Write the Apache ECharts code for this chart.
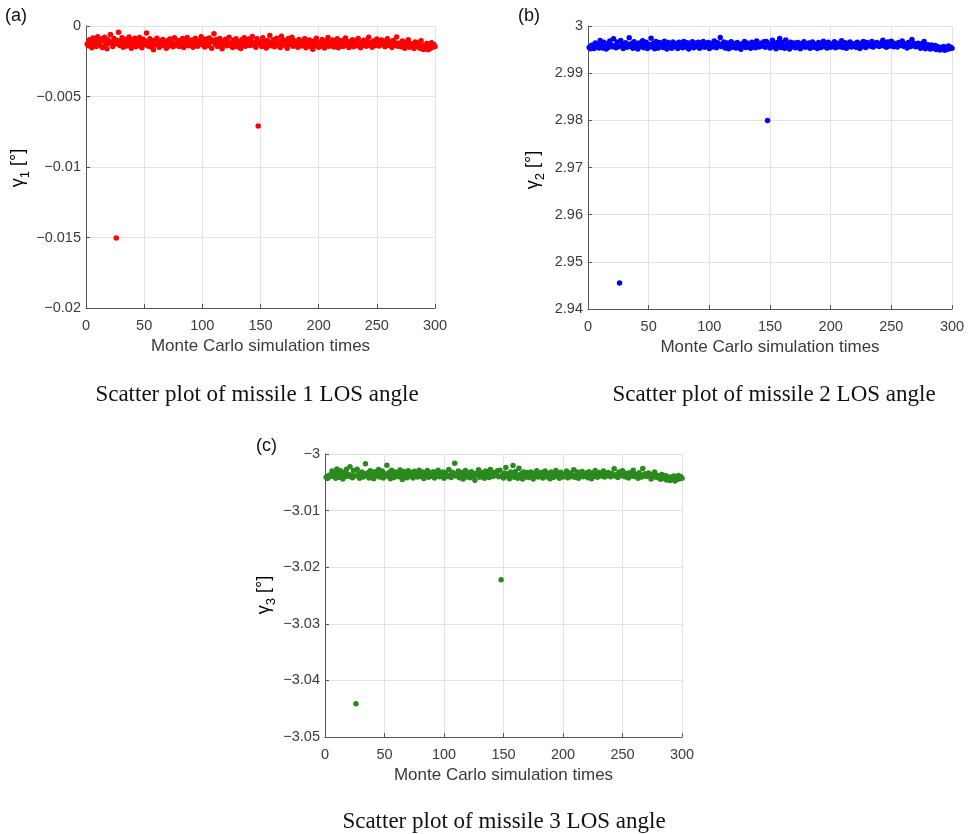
<!DOCTYPE html>
<html>
<head>
<meta charset="utf-8">
<title>LOS angle scatter</title>
<script src="https://cdn.jsdelivr.net/npm/echarts@6/dist/echarts.min.js"></script>
<style>
  html, body { margin: 0; padding: 0; background: #fff; }
  #main { width: 968px; height: 834px; }
</style>
</head>
<body>
<div id="main"></div>
<script>
// Monte Carlo run index 1..300 (x axis)
const xTicks = [0, 50, 100, 150, 200, 250, 300];

// missile 1 LOS angle gamma_1 [deg]
const gamma1 = [
  -0.00128,-0.00140,-0.00098,-0.00119,-0.00155,-0.00085,-0.00124,-0.00106,-0.00146,-0.00076,
  -0.00112,-0.00136,-0.00092,-0.00152,-0.00104,-0.00080,-0.00131,-0.00162,-0.00097,-0.00122,
  -0.00060,-0.00115,-0.00145,-0.00088,-0.00127,-0.01503,-0.00103,-0.00045,-0.00138,-0.00110,
  -0.00084,-0.00150,-0.00121,-0.00095,-0.00141,-0.00108,-0.00078,-0.00133,-0.00158,-0.00100,
  -0.00125,-0.00087,-0.00147,-0.00113,-0.00137,-0.00082,-0.00118,-0.00154,-0.00094,-0.00129,
  -0.00106,-0.00050,-0.00142,-0.00116,-0.00090,-0.00149,-0.00123,-0.00168,-0.00101,-0.00134,
  -0.00086,-0.00124,-0.00151,-0.00111,-0.00139,-0.00096,-0.00130,-0.00117,-0.00157,-0.00105,
  -0.00143,-0.00093,-0.00126,-0.00114,-0.00148,-0.00083,-0.00135,-0.00120,-0.00102,-0.00145,
  -0.00115,-0.00132,-0.00089,-0.00153,-0.00107,-0.00124,-0.00081,-0.00140,-0.00112,-0.00136,
  -0.00099,-0.00150,-0.00122,-0.00087,-0.00128,-0.00144,-0.00104,-0.00119,-0.00077,-0.00133,
  -0.00110,-0.00149,-0.00092,-0.00123,-0.00139,-0.00085,-0.00115,-0.00158,-0.00101,-0.00055,
  -0.00127,-0.00096,-0.00146,-0.00118,-0.00088,-0.00134,-0.00162,-0.00107,-0.00131,-0.00094,
  -0.00140,-0.00114,-0.00079,-0.00136,-0.00121,-0.00153,-0.00100,-0.00127,-0.00090,-0.00147,
  -0.00111,-0.00133,-0.00160,-0.00098,-0.00124,-0.00084,-0.00143,-0.00116,-0.00129,-0.00093,
  -0.00138,-0.00108,-0.00074,-0.00134,-0.00118,-0.00150,-0.00091,-0.00710,-0.00125,-0.00110,
  -0.00145,-0.00083,-0.00135,-0.00114,-0.00156,-0.00102,-0.00128,-0.00068,-0.00140,-0.00119,
  -0.00097,-0.00147,-0.00122,-0.00086,-0.00131,-0.00108,-0.00153,-0.00072,-0.00126,-0.00101,
  -0.00137,-0.00112,-0.00158,-0.00089,-0.00129,-0.00116,-0.00080,-0.00144,-0.00104,-0.00133,
  -0.00120,-0.00151,-0.00095,-0.00127,-0.00141,-0.00110,-0.00135,-0.00090,-0.00155,-0.00114,
  -0.00131,-0.00100,-0.00146,-0.00121,-0.00165,-0.00106,-0.00137,-0.00087,-0.00125,-0.00150,
  -0.00115,-0.00141,-0.00096,-0.00129,-0.00156,-0.00108,-0.00123,-0.00082,-0.00144,-0.00117,
  -0.00134,-0.00099,-0.00149,-0.00120,-0.00136,-0.00091,-0.00154,-0.00112,-0.00128,-0.00103,
  -0.00145,-0.00123,-0.00085,-0.00138,-0.00110,-0.00152,-0.00117,-0.00131,-0.00097,-0.00147,
  -0.00122,-0.00105,-0.00140,-0.00088,-0.00129,-0.00155,-0.00114,-0.00136,-0.00101,-0.00125,
  -0.00143,-0.00112,-0.00080,-0.00134,-0.00120,-0.00150,-0.00106,-0.00127,-0.00139,-0.00093,
  -0.00116,-0.00142,-0.00124,-0.00099,-0.00132,-0.00109,-0.00147,-0.00121,-0.00090,-0.00137,
  -0.00111,-0.00128,-0.00153,-0.00103,-0.00138,-0.00118,-0.00078,-0.00144,-0.00122,-0.00133,
  -0.00148,-0.00107,-0.00129,-0.00158,-0.00116,-0.00140,-0.00097,-0.00151,-0.00125,-0.00142,
  -0.00130,-0.00160,-0.00114,-0.00146,-0.00135,-0.00121,-0.00157,-0.00105,-0.00149,-0.00166,
  -0.00134,-0.00153,-0.00124,-0.00168,-0.00139,-0.00159,-0.00118,-0.00150,-0.00131,-0.00145
];

// missile 2 LOS angle gamma_2 [deg]
const gamma2 = [
  2.99545,2.99520,2.99590,2.99560,2.99525,2.99638,2.99568,2.99600,2.99532,2.99690,
  2.99610,2.99535,2.99655,2.99572,2.99515,2.99630,2.99550,2.99680,2.99605,2.99562,
  2.99730,2.99580,2.99538,2.99660,2.99558,2.94552,2.99690,2.99615,2.99522,2.99595,
  2.99645,2.99548,2.99610,2.99750,2.99565,2.99628,2.99530,2.99665,2.99575,2.99602,
  2.99512,2.99640,2.99560,2.99618,2.99688,2.99540,2.99592,2.99658,2.99525,2.99612,
  2.99580,2.99740,2.99550,2.99635,2.99518,2.99670,2.99598,2.99532,2.99648,2.99570,
  2.99620,2.99545,2.99676,2.99590,2.99510,2.99652,2.99565,2.99610,2.99528,2.99662,
  2.99558,2.99630,2.99600,2.99522,2.99655,2.99578,2.99625,2.99540,2.99672,2.99592,
  2.99555,2.99645,2.99515,2.99615,2.99575,2.99664,2.99538,2.99638,2.99605,2.99562,
  2.99656,2.99530,2.99628,2.99588,2.99670,2.99548,2.99615,2.99572,2.99650,2.99524,
  2.99632,2.99598,2.99555,2.99680,2.99580,2.99540,2.99646,2.99608,2.99755,2.99565,
  2.99618,2.99660,2.99535,2.99596,2.99640,2.99518,2.99584,2.99668,2.99548,2.99630,
  2.99578,2.99532,2.99650,2.99612,2.99560,2.99505,2.99625,2.99595,2.99674,2.99542,
  2.99642,2.99565,2.99600,2.99528,2.99658,2.99585,2.99620,2.99540,2.99684,2.99594,
  2.99556,2.99636,2.99576,2.99606,2.99664,2.99552,2.99672,2.97998,2.99582,2.99535,
  2.99630,2.99700,2.99562,2.99614,2.99520,2.99648,2.99590,2.99735,2.99545,2.99652,
  2.99598,2.99528,2.99705,2.99572,2.99622,2.99515,2.99658,2.99555,2.99610,2.99640,
  2.99540,2.99592,2.99650,2.99566,2.99518,2.99628,2.99580,2.99666,2.99548,2.99612,
  2.99570,2.99638,2.99530,2.99600,2.99662,2.99552,2.99618,2.99585,2.99522,2.99648,
  2.99596,2.99545,2.99625,2.99678,2.99565,2.99610,2.99532,2.99655,2.99580,2.99552,
  2.99616,2.99575,2.99664,2.99538,2.99604,2.99636,2.99560,2.99590,2.99685,2.99545,
  2.99578,2.99646,2.99528,2.99622,2.99596,2.99660,2.99555,2.99612,2.99574,2.99630,
  2.99548,2.99658,2.99584,2.99522,2.99628,2.99566,2.99672,2.99598,2.99545,2.99648,
  2.99590,2.99620,2.99572,2.99670,2.99556,2.99612,2.99580,2.99650,2.99604,2.99565,
  2.99632,2.99596,2.99700,2.99576,2.99608,2.99550,2.99660,2.99618,2.99578,2.99676,
  2.99602,2.99562,2.99628,2.99592,2.99555,2.99648,2.99584,2.99612,2.99684,2.99572,
  2.99622,2.99580,2.99532,2.99650,2.99596,2.99566,2.99715,2.99608,2.99630,2.99558,
  2.99590,2.99635,2.99575,2.99530,2.99625,2.99554,2.99670,2.99520,2.99582,2.99600,
  2.99540,2.99510,2.99598,2.99552,2.99525,2.99585,2.99500,2.99565,2.99520,2.99490,
  2.99545,2.99515,2.99565,2.99488,2.99535,2.99508,2.99578,2.99520,2.99550,2.99528
];

// missile 3 LOS angle gamma_3 [deg]
const gamma3 = [
  -3.00410,-3.00435,-3.00378,-3.00400,-3.00360,-3.00300,-3.00392,-3.00345,-3.00428,-3.00265,
  -3.00340,-3.00412,-3.00298,-3.00382,-3.00440,-3.00325,-3.00398,-3.00270,-3.00355,-3.00395,
  -3.00225,-3.00370,-3.00418,-3.00292,-3.00388,-3.04412,-3.00268,-3.00350,-3.00430,-3.00366,
  -3.00318,-3.00405,-3.00348,-3.00172,-3.00384,-3.00330,-3.00422,-3.00295,-3.00376,-3.00352,
  -3.00436,-3.00315,-3.00385,-3.00338,-3.00275,-3.00408,-3.00368,-3.00302,-3.00426,-3.00345,
  -3.00372,-3.00200,-3.00392,-3.00322,-3.00438,-3.00288,-3.00358,-3.00414,-3.00318,-3.00380,
  -3.00332,-3.00402,-3.00282,-3.00365,-3.00450,-3.00310,-3.00386,-3.00348,-3.00420,-3.00298,
  -3.00390,-3.00328,-3.00356,-3.00425,-3.00306,-3.00374,-3.00336,-3.00408,-3.00285,-3.00362,
  -3.00396,-3.00318,-3.00432,-3.00342,-3.00380,-3.00292,-3.00412,-3.00326,-3.00356,-3.00392,
  -3.00312,-3.00424,-3.00335,-3.00370,-3.00286,-3.00402,-3.00350,-3.00386,-3.00318,-3.00430,
  -3.00330,-3.00362,-3.00398,-3.00276,-3.00374,-3.00416,-3.00322,-3.00355,-3.00165,-3.00390,
  -3.00345,-3.00300,-3.00418,-3.00358,-3.00325,-3.00440,-3.00376,-3.00290,-3.00405,-3.00332,
  -3.00378,-3.00420,-3.00314,-3.00352,-3.00396,-3.00462,-3.00338,-3.00366,-3.00280,-3.00410,
  -3.00322,-3.00388,-3.00360,-3.00430,-3.00300,-3.00374,-3.00340,-3.00414,-3.00272,-3.00370,
  -3.00398,-3.00328,-3.00382,-3.00356,-3.00295,-3.00404,-3.00285,-3.02222,-3.00376,-3.00422,
  -3.00335,-3.00240,-3.00394,-3.00350,-3.00436,-3.00320,-3.00372,-3.00205,-3.00410,-3.00310,
  -3.00362,-3.00428,-3.00250,-3.00388,-3.00345,-3.00442,-3.00316,-3.00406,-3.00356,-3.00326,
  -3.00414,-3.00368,-3.00318,-3.00392,-3.00440,-3.00340,-3.00380,-3.00298,-3.00408,-3.00352,
  -3.00386,-3.00326,-3.00426,-3.00362,-3.00302,-3.00400,-3.00346,-3.00374,-3.00436,-3.00316,
  -3.00368,-3.00414,-3.00340,-3.00290,-3.00390,-3.00358,-3.00428,-3.00322,-3.00380,-3.00408,
  -3.00352,-3.00386,-3.00300,-3.00420,-3.00360,-3.00334,-3.00402,-3.00372,-3.00280,-3.00412,
  -3.00380,-3.00320,-3.00430,-3.00348,-3.00370,-3.00310,-3.00404,-3.00362,-3.00390,-3.00332,
  -3.00418,-3.00312,-3.00378,-3.00436,-3.00342,-3.00396,-3.00290,-3.00366,-3.00412,-3.00328,
  -3.00374,-3.00350,-3.00392,-3.00300,-3.00408,-3.00360,-3.00384,-3.00326,-3.00368,-3.00402,
  -3.00344,-3.00378,-3.00262,-3.00390,-3.00364,-3.00416,-3.00318,-3.00360,-3.00386,-3.00296,
  -3.00368,-3.00404,-3.00340,-3.00374,-3.00422,-3.00332,-3.00388,-3.00362,-3.00288,-3.00396,
  -3.00356,-3.00384,-3.00430,-3.00330,-3.00376,-3.00406,-3.00255,-3.00370,-3.00348,-3.00398,
  -3.00380,-3.00336,-3.00364,-3.00440,-3.00394,-3.00352,-3.00316,-3.00412,-3.00374,-3.00420,
  -3.00390,-3.00446,-3.00360,-3.00408,-3.00432,-3.00378,-3.00458,-3.00400,-3.00424,-3.00470,
  -3.00406,-3.00442,-3.00388,-3.00475,-3.00418,-3.00452,-3.00380,-3.00436,-3.00404,-3.00428
];

const yTicks1 = [-0.02, -0.015, -0.01, -0.005, 0];
const yTicks2 = [2.94, 2.95, 2.96, 2.97, 2.98, 2.99, 3];
const yTicks3 = [-3.05, -3.04, -3.03, -3.02, -3.01, -3];

const captions = [
  'Scatter plot of missile 1 LOS angle',
  'Scatter plot of missile 2 LOS angle',
  'Scatter plot of missile 3 LOS angle'
];
const panelTags = ['(a)', '(b)', '(c)'];

const chart = echarts.init(document.getElementById('main'), null, {renderer: 'canvas'});

const SANS = '"Liberation Sans", Arial, Helvetica, sans-serif';
const SERIF = '"Liberation Serif", "Times New Roman", serif';
const TXT = '#3b3b3b';

// matlab style minus sign
const fmt = (d) => (v) => {
  let s = Math.abs(v) < 1e-12 ? '0' : String(+v.toFixed(d));
  return s.replace('-', '\u2212');
};

const grids = [
  {left: 86, top: 26, width: 349, height: 282},
  {left: 588, top: 26, width: 364, height: 283},
  {left: 325, top: 454, width: 357, height: 283}
];

function xAxisFor(i) {
  return {
    type: 'value', gridIndex: i,
    min: xTicks[0], max: xTicks[xTicks.length - 1], interval: 50,
    name: 'Monte Carlo simulation times',
    nameLocation: 'middle', nameGap: 30,
    nameTextStyle: {fontFamily: SANS, fontSize: 17, color: TXT},
    axisLine: {show: true, onZero: false, lineStyle: {color: '#555', width: 1}},
    axisTick: {show: true, inside: true, length: 4, lineStyle: {color: '#555'}},
    axisLabel: {fontFamily: SANS, fontSize: 14.5, color: TXT, margin: 10},
    splitLine: {show: true, lineStyle: {color: '#e3e3e3', width: 1}}
  };
}

function yAxisFor(i, ticks, dec) {
  return {
    type: 'value', gridIndex: i,
    min: ticks[0], max: ticks[ticks.length - 1],
    interval: +(ticks[1] - ticks[0]).toFixed(6),
    axisLine: {show: true, onZero: false, lineStyle: {color: '#555', width: 1}},
    axisTick: {show: true, inside: true, length: 4, lineStyle: {color: '#555'}},
    axisLabel: {fontFamily: SANS, fontSize: 14.5, color: TXT, margin: 5, formatter: fmt(dec)},
    splitLine: {show: true, lineStyle: {color: '#e3e3e3', width: 1}}
  };
}

function pts(arr) {
  return arr.map((v, k) => [k + 1, v]);
}

function scatter(i, arr, color) {
  return {
    type: 'scatter', xAxisIndex: i, yAxisIndex: i,
    data: pts(arr), symbol: 'circle', symbolSize: 5.5,
    itemStyle: {color: color, opacity: 1},
    silent: true
  };
}

// y axis names with subscript, drawn rotated
function yName(n, x, y) {
  return {
    type: 'text', x: x, y: y, rotation: Math.PI / 2,
    style: {
      text: '{g|\u03b3}{s|' + n + '}{g| [\u00b0]}',
      align: 'center', verticalAlign: 'middle',
      rich: {
        g: {fontFamily: SANS, fontSize: 18, color: TXT, verticalAlign: 'top', lineHeight: 21},
        s: {fontFamily: SANS, fontSize: 13, color: TXT, verticalAlign: 'top', lineHeight: 14, padding: [9, 0, 0, 0]}
      }
    }
  };
}

function label(text, x, y, font, size, align) {
  return {
    type: 'text', x: x, y: y,
    style: {text: text, fontFamily: font, fontSize: size, fill: '#111',
      align: align || 'center', verticalAlign: 'middle'}
  };
}

chart.setOption({
  animation: false,
  backgroundColor: '#fff',
  grid: grids,
  xAxis: [xAxisFor(0), xAxisFor(1), xAxisFor(2)],
  yAxis: [yAxisFor(0, yTicks1, 3), yAxisFor(1, yTicks2, 2), yAxisFor(2, yTicks3, 2)],
  series: [
    scatter(0, gamma1, '#ff0000'),
    scatter(1, gamma2, '#0000ff'),
    scatter(2, gamma3, '#2b8a1e')
  ],
  graphic: [
    yName(1, 20, 168),
    yName(2, 535, 170),
    yName(3, 266, 595),
    label(panelTags[0], 5, 16, SANS, 18, 'left'),
    label(panelTags[1], 518, 16, SANS, 18, 'left'),
    label(panelTags[2], 256, 446, SANS, 18, 'left'),
    label(captions[0], 257, 395, SERIF, 23),
    label(captions[1], 774, 395, SERIF, 23),
    label(captions[2], 504, 822, SERIF, 23)
  ]
});
</script>
</body>
</html>
